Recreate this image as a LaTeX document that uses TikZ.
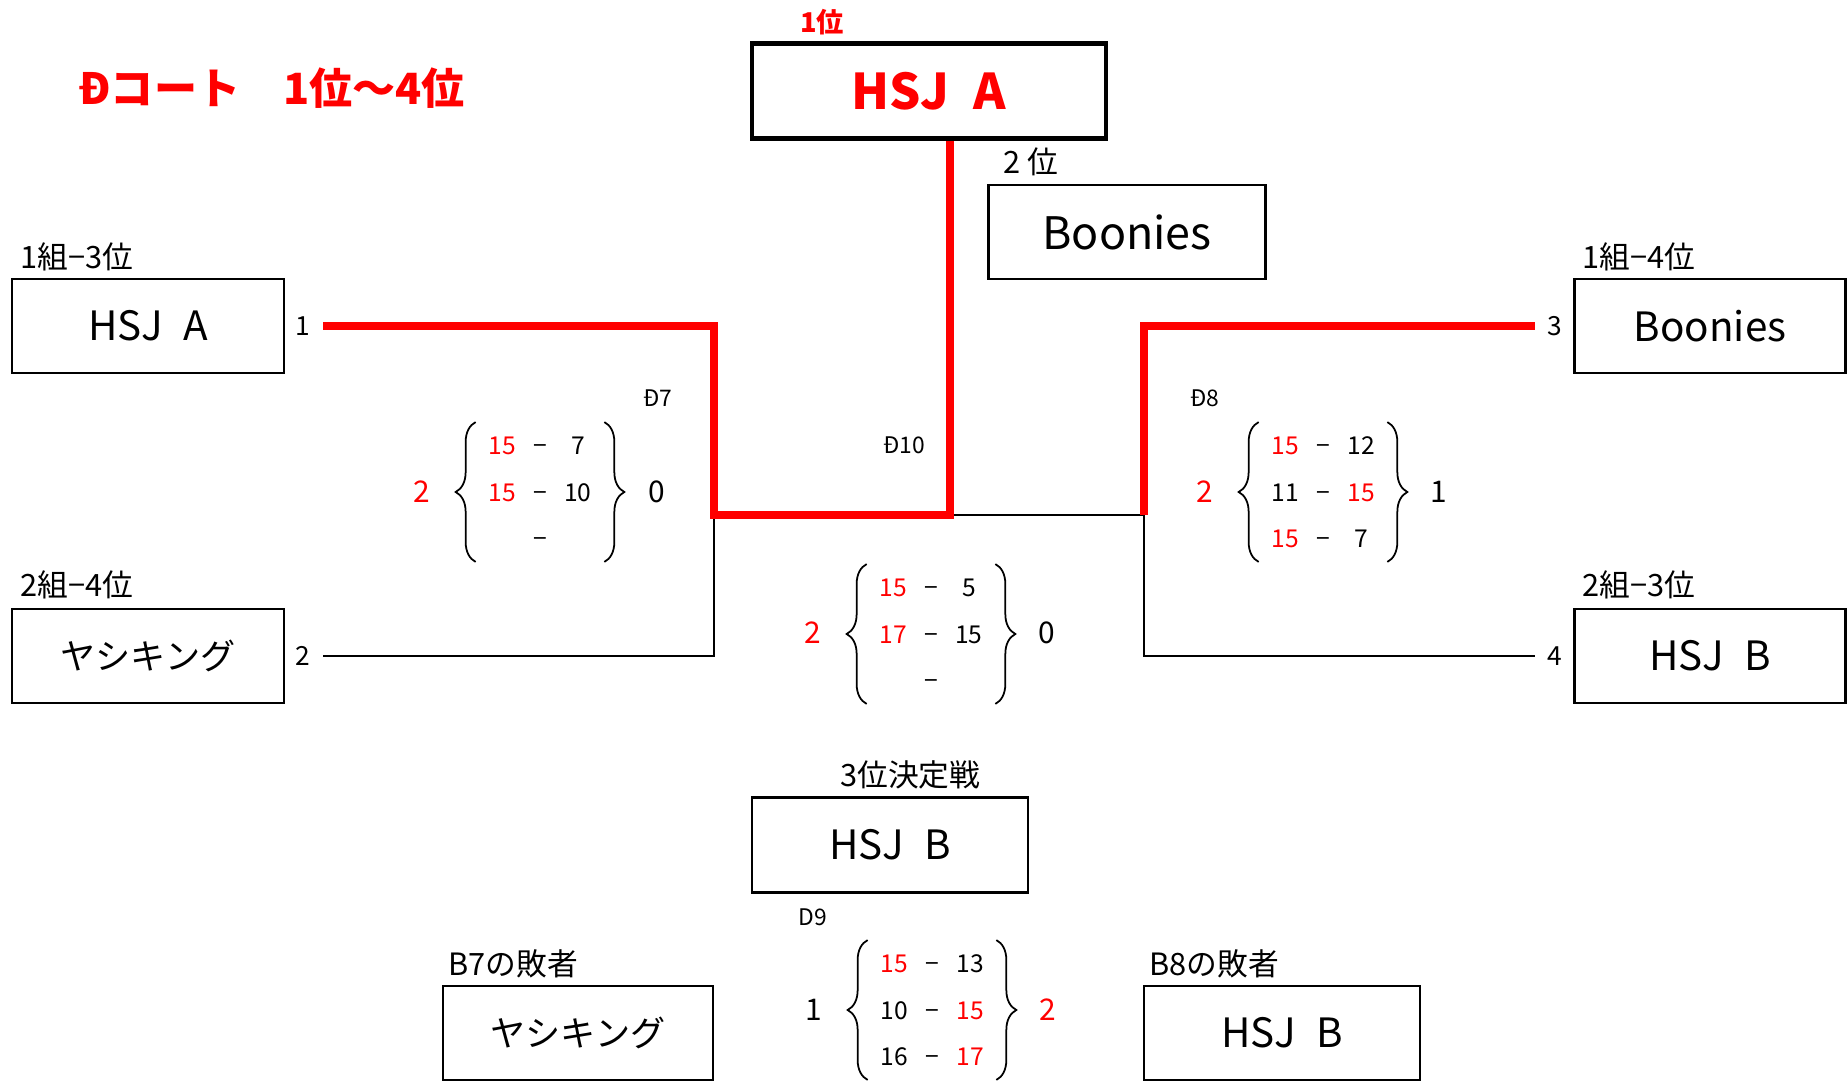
\documentclass[tikz,border=0pt]{standalone}
\usepackage{fontspec}
\setmainfont{Noto Sans CJK JP}
\usepackage{xcolor}
\definecolor{myred}{RGB}{255,0,0}
\usepackage{array}
\setlength{\tabcolsep}{0pt}
\newcolumntype{Q}{w{c}{0.76cm}}
\newcommand{\wn}[1]{\textcolor{myred}{#1}}
\usepackage{tikz}
\usetikzlibrary{decorations.pathreplacing}

\begin{document}
\begin{tikzpicture}[x=0.02cm,y=-0.02cm]
	\tikzstyle{team}=[draw,line width=1.2pt,minimum width=5.44cm,minimum height=1.87cm,inner sep=0pt,font=\fontsize{23}{28}\selectfont];
	\tikzstyle{kana}=[font=\fontsize{20}{24}\selectfont];
	\tikzstyle{lbl}=[anchor=west,inner sep=0pt,font=\fontsize{17.5}{20}\selectfont];
	\tikzstyle{seed}=[minimum width=0.8cm,inner sep=0pt,font=\fontsize{15}{18}\selectfont];
	\tikzstyle{game}=[inner sep=0pt,font=\fontsize{13}{16}\selectfont];
	\tikzstyle{sets}=[inner sep=0pt,font=\fontsize{17}{20}\selectfont];
	\tikzstyle{score}=[inner xsep=0.14cm,inner ysep=0pt,font=\fontsize{14}{26.4}\selectfont];
	\tikzstyle{brc}=[decorate,decoration={brace,amplitude=0.4cm},line width=1pt];
	\tikzstyle{lose}=[line width=1.5pt];
	\tikzstyle{won}=[line width=4pt,myred];
	\useasboundingbox (0,0) rectangle (1847,1081);
	%% Titles
	\node[lbl,text=myred,font=\bfseries\fontsize{24.5}{28}\selectfont] (title) at (78,88) {Ðコート　1位～4位};
	\node[lbl,text=myred,font=\bfseries\fontsize{15.5}{18}\selectfont] (first) at (800,22) {1位};
	\node[lbl] (second) at (1003,162) {2 位};
	\node[lbl] at (20,257) {1組−3位};
	\node[lbl] at (20,585) {2組−4位};
	\node[lbl] at (1582,257) {1組−4位};
	\node[lbl] at (1582,585) {2組−3位};
	\node[lbl] at (840,775) {3位決定戦};
	\node[lbl] at (448,964) {B7の敗者};
	\node[lbl] at (1149,964) {B8の敗者};
	%% Teams
	\node[team,line width=2.4pt,minimum width=7.08cm,minimum height=1.9cm,text=myred,font=\bfseries\fontsize{28}{32}\selectfont] (champ) at (929,91) {HSJ\enspace A};
	\node[team,minimum width=5.54cm,font=\fontsize{25.5}{30}\selectfont] (runner) at (1127,232) {Boonies};
	\node[team] (t1) at (148,326) {HSJ\enspace A};
	\node[team,kana] (t2) at (148,656) {ヤシキング};
	\node[team,minimum width=5.42cm] (t3) at (1710,326) {Boonies};
	\node[team,minimum width=5.42cm] (t4) at (1710,656) {HSJ\enspace B};
	\node[team,minimum width=5.52cm,minimum height=1.9cm] (bronze) at (890,845) {HSJ\enspace B};
	\node[team,kana,minimum width=5.4cm] (l7) at (578,1033) {ヤシキング};
	\node[team,minimum width=5.52cm] (l8) at (1282,1033) {HSJ\enspace B};
	%% Seeds
	\node[seed] (n1) at (303,326) {1};
	\node[seed] (n2) at (303,656) {2};
	\node[seed] (n3) at (1555,326) {3};
	\node[seed] (n4) at (1555,656) {4};
	%% Junctions
	\coordinate (j7) at (714,515);
	\coordinate (j10) at (950,515);
	\coordinate (j8) at (1144,515);
	%% Losing Paths
	\draw[lose] (n2.east) -| (j7);
	\draw[lose] (j10) -- (j8) |- (n4.west);
	%% Winning Paths
	\draw[won] (n1.east) -| (j7) -- (j10) -- (j10 |- champ.south);
	\draw[won] (j8) |- (n3.west);
	%% Game Names
	\node[game] at (658,398) {Ð7};
	\node[game] at (904,445) {Ð10};
	\node[game] at (1205,398) {Ð8};
	\node[game] at (813,917) {D9};
	%% Scores
	\node[score] (s7) at (540,492) {\begin{tabular}{QQQ}\wn{15}&−&7\\\wn{15}&−&10\\&−&\end{tabular}};
	\node[score] (s10) at (931,634) {\begin{tabular}{QQQ}\wn{15}&−&5\\\wn{17}&−&15\\&−&\end{tabular}};
	\node[score] (s8) at (1323,492) {\begin{tabular}{QQQ}\wn{15}&−&12\\11&−&\wn{15}\\\wn{15}&−&7\end{tabular}};
	\node[score] (s9) at (932,1010) {\begin{tabular}{QQQ}\wn{15}&−&13\\10&−&\wn{15}\\16&−&\wn{17}\end{tabular}};
	\foreach \s in {s7,s10,s8,s9}{
		\draw[brc] (\s.south west) -- (\s.north west);
		\draw[brc] (\s.north east) -- (\s.south east);
	}
	%% Sets Won
	\node[sets,text=myred] at (422,492) {2};
	\node[sets] at (657,492) {0};
	\node[sets,text=myred] at (813,633) {2};
	\node[sets] at (1047,633) {0};
	\node[sets,text=myred] at (1205,492) {2};
	\node[sets] at (1439,492) {1};
	\node[sets] at (814,1010) {1};
	\node[sets,text=myred] at (1048,1010) {2};
\end{tikzpicture}
\end{document}
